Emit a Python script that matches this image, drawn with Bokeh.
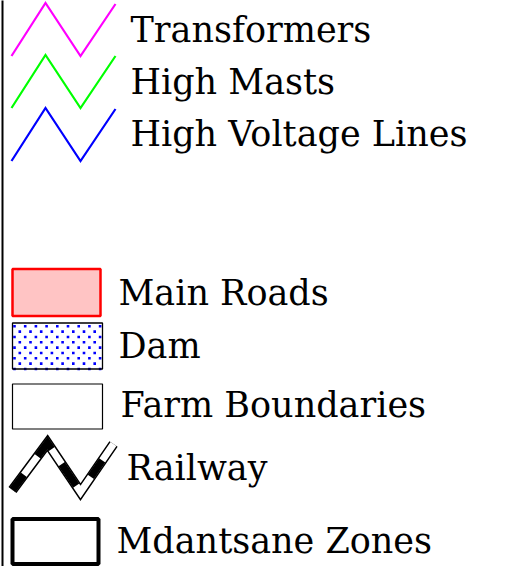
import numpy as np
from bokeh.plotting import figure
from bokeh.models import Range1d
from bokeh.embed import file_html
from bokeh.resources import INLINE
from bokeh.core.properties import value

# Legend entries (content)
line_items = ["Transformers", "High Masts", "High Voltage Lines"]
line_colors = ["#ff00ff", "#00ff00", "#0000ff"]
area_items = ["Main Roads", "Dam", "Farm Boundaries"]
area_fills = ["#ffc4c4", "#ffffff", "#ffffff"]
area_lines = ["#ff0000", "#000000", "#000000"]
rail_item = "Railway"
zone_item = "Mdantsane Zones"

W, H = 509, 574
p = figure(width=W - 8, height=H - 8, output_backend="svg", toolbar_location=None,
           x_range=Range1d(0, W - 8), y_range=Range1d(571.5, 5.5), min_border=0)
p.axis.visible = False
p.grid.visible = False
p.outline_line_color = None
p.background_fill_color = "white"

font = value("DejaVu Serif")
fs = "35px"
TXT = -10  # correction from baseline to rendered glyph position


def label(x, y, s):
    p.text(x=[x], y=[y + TXT], text=[s], text_font=font, text_font_size=fs,
           text_baseline="alphabetic", text_color="black")


# left frame line
p.segment(x0=[2], y0=[0], x1=[2], y1=[H], line_color="black", line_width=2)

# zigzag line items
zig_dx = [11, 45, 80, 115]
zig_dy = [0, -53, 0, -52]
line_base = [61, 113, 166]
text_base_lines = [45, 97, 149]
for name, col, yb, tb in zip(line_items, line_colors, line_base, text_base_lines):
    p.line(x=zig_dx, y=[yb + d for d in zig_dy], line_color=col, line_width=2.2,
           line_join="miter")
    label(130, tb, name)

# area items
rects = [(12, 100, 274, 321), (12, 102, 328, 374), (12, 102, 389, 434)]
rect_widths = [2.5, 1.3, 1.2]
area_text_y = [308, 361, 420]
area_text_x = [118, 118, 120]
for i, (name, fc, lc) in enumerate(zip(area_items, area_fills, area_lines)):
    l, r, t, b = rects[i]
    p.quad(left=[l], right=[r], top=[t], bottom=[b], fill_color=fc, line_color=None)
    if name == "Dam":
        xs, ys = [], []
        for j, yy in enumerate(np.arange(t + 3.3, b + 0.5, 5.33)):
            x0 = l + 2 if j % 2 == 0 else l + 7.3
            for xx in np.arange(x0, r - 0.5, 10.7):
                xs.append(xx)
                ys.append(yy)
        p.scatter(x=xs, y=ys, marker="square", size=2.6, fill_color="#0000ff",
                  line_color=None)
    p.quad(left=[l], right=[r], top=[t], bottom=[b], fill_color=None, line_color=lc,
           line_width=rect_widths[i])
    label(area_text_x[i], area_text_y[i], name)

# railway
rx = [12, 47, 80, 113]
ry = [495, 448, 497, 449]
p.line(x=rx, y=ry, line_color="black", line_width=10, line_join="miter")
p.line(x=rx, y=ry, line_color="white", line_width=7, line_join="miter")
p.line(x=rx, y=ry, line_color="black", line_width=7.5, line_join="miter",
       line_dash="19 23 24 18 26 26 20 30")
label(126, 483, rail_item)

# zones
p.quad(left=[12], right=[98], top=[524], bottom=[569], fill_color="white",
       line_color="black", line_width=4)
label(116, 556, zone_item)

open("out.html", "w").write(file_html(p, INLINE))
